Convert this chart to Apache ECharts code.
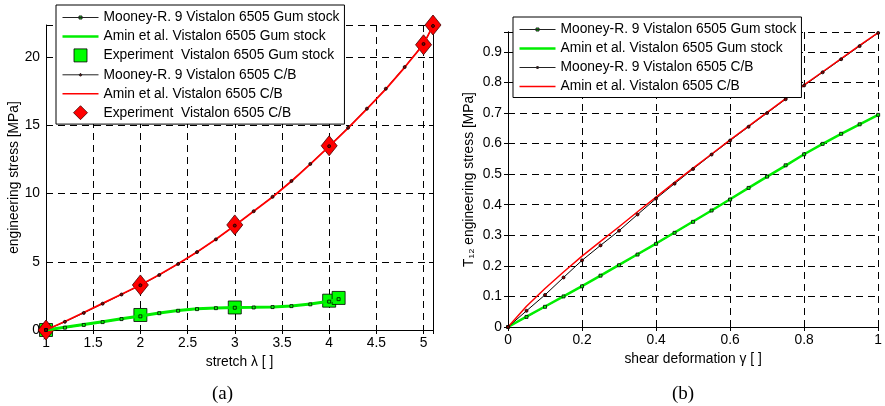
<!DOCTYPE html>
<html lang="en">
<head>
    <meta charset="UTF-8">
    <title>Vistalon 6505</title>
    <script src="https://cdn.jsdelivr.net/npm/echarts@6/dist/echarts.min.js"></script>
    <style>
        html, body { margin: 0; padding: 0; background: #fff; }
    </style>
</head>
<body>
    <div id="main" style="width: 885px; height: 406px"></div>
    <script>
        // (a) uniaxial tension
        var stretchCB = [1.0, 1.2, 1.4, 1.6, 1.8, 2.0, 2.2, 2.4, 2.6, 2.8, 3.0, 3.2, 3.4, 3.6, 3.8, 4.0, 4.2, 4.4, 4.6, 4.8, 5.0, 5.1]
        var cbMooney = [0, 0.6, 1.25, 1.93, 2.6, 3.28, 4.03, 4.84, 5.71, 6.64, 7.65, 8.7, 9.76, 10.92, 12.17, 13.47, 14.82, 16.22, 17.68, 19.27, 20.96, 22.28]
        var cbAmin = [0, 0.62, 1.28, 1.95, 2.62, 3.3, 4.05, 4.85, 5.72, 6.65, 7.66, 8.7, 9.75, 10.9, 12.15, 13.45, 14.8, 16.2, 17.65, 19.25, 20.95, 22.3]

        var stretchGum = [1.0, 1.2, 1.4, 1.6, 1.8, 2.0, 2.2, 2.4, 2.6, 2.8, 3.0, 3.2, 3.4, 3.6, 3.8, 4.0, 4.1]
        var gumMooney = [0, 0.17, 0.37, 0.58, 0.8, 1.0, 1.23, 1.41, 1.53, 1.6, 1.63, 1.65, 1.68, 1.75, 1.88, 2.08, 2.26]
        var gumAmin = [0, 0.2, 0.4, 0.6, 0.82, 1.02, 1.25, 1.43, 1.55, 1.61, 1.64, 1.66, 1.69, 1.76, 1.9, 2.1, 2.28]

        var expGumStretch = [1, 2, 3, 4, 4.1]
        var expGumStress = [0, 1.1, 1.65, 2.15, 2.35]
        var expCBStretch = [1, 2, 3, 4, 5, 5.1]
        var expCBStress = [0, 3.3, 7.7, 13.5, 20.9, 22.35]

        // (b) simple shear
        var gamma = [0, 0.05, 0.1, 0.15, 0.2, 0.25, 0.3, 0.35, 0.4, 0.45, 0.5, 0.55, 0.6, 0.65, 0.7, 0.75, 0.8, 0.85, 0.9, 0.95, 1.0]
        var shearGumMooney = [0, 0.033, 0.066, 0.1, 0.133, 0.168, 0.202, 0.237, 0.272, 0.308, 0.344, 0.381, 0.417, 0.455, 0.492, 0.529, 0.565, 0.599, 0.632, 0.663, 0.694]
        var shearGumAmin = [0, 0.034, 0.067, 0.1, 0.134, 0.168, 0.203, 0.238, 0.273, 0.309, 0.345, 0.381, 0.418, 0.455, 0.492, 0.528, 0.565, 0.599, 0.632, 0.663, 0.694]
        var shearCBMooney = [0, 0.053, 0.105, 0.162, 0.218, 0.267, 0.315, 0.368, 0.42, 0.469, 0.517, 0.564, 0.61, 0.655, 0.7, 0.745, 0.79, 0.833, 0.876, 0.919, 0.962]
        var shearCBAmin = [0, 0.068, 0.126, 0.18, 0.232, 0.28, 0.328, 0.377, 0.425, 0.473, 0.52, 0.566, 0.612, 0.657, 0.702, 0.747, 0.792, 0.835, 0.878, 0.921, 0.963]

        var names = {
            gumMooney: 'Mooney-R. 9 Vistalon 6505 Gum stock',
            gumAmin: 'Amin et al. Vistalon 6505 Gum stock',
            gumExp: 'Experiment  Vistalon 6505 Gum stock',
            cbMooney: 'Mooney-R. 9 Vistalon 6505 C/B',
            cbAmin: 'Amin et al. Vistalon 6505 C/B',
            cbExp: 'Experiment  Vistalon 6505 C/B'
        }

        var GREEN = '#00ff00', LGREEN = '#00ee00', RED = '#ff0000', DRED = '#8b0000'

        function pairs(xs, ys) {
            return xs.map(function (x, i) { return [x, ys[i]] })
        }

        var font = 'Liberation Sans'
        var labelStyle = { color: '#000', fontFamily: font, fontSize: 13.8 }
        var dashed = { show: true, lineStyle: { color: '#000', type: [7, 5], width: 1 } }

        // legend icons drawn in a 36x14 box; the zero-length corner segments pin the box so nothing gets rescaled
        var box = 'M0,0L0,0M36,14L36,14'
        var icons = {
            gumMooney: 'path://' + box + 'M0,7L36,7M16.5,5.5L19.5,5.5L19.5,8.5L16.5,8.5Z',
            gumAmin: 'path://' + box + 'M0,5.8L36,5.8L36,8.2L0,8.2Z',
            gumExp: 'path://' + box + 'M11.5,0.5L24.5,0.5L24.5,13.5L11.5,13.5Z',
            cbMooney: 'path://' + box + 'M0,7L36,7M18,5.5L19.5,7L18,8.5L16.5,7Z',
            cbAmin: 'path://' + box + 'M0,6.3L36,6.3L36,7.7L0,7.7Z',
            cbExp: 'path://' + box + 'M18,0L25,7L18,14L11,7Z'
        }
        var iconStyles = {
            gumMooney: { color: GREEN, borderColor: '#222', borderWidth: 1 },
            gumAmin: { color: LGREEN, borderWidth: 0 },
            gumExp: { color: GREEN, borderColor: '#000', borderWidth: 0.8 },
            cbMooney: { color: DRED, borderColor: '#222', borderWidth: 1 },
            cbAmin: { color: RED, borderWidth: 0 },
            cbExp: { color: RED, borderColor: '#400', borderWidth: 0.8 }
        }
        function legendItem(key, suffix) {
            return { name: names[key] + (suffix || ''), icon: icons[key], itemStyle: iconStyles[key] }
        }

        // main axis + mirror axis for the box with inner ticks
        function xAxes(gi, min, max, interval, name, gap, showMax) {
            return [{
                gridIndex: gi, type: 'value', min: min, max: max, interval: interval,
                name: name, nameLocation: 'middle', nameGap: gap,
                nameTextStyle: labelStyle,
                axisLine: { lineStyle: { color: '#000', width: 1 } },
                axisTick: { inside: true, length: 4, lineStyle: { color: '#000' } },
                axisLabel: Object.assign({ margin: 6, showMaxLabel: showMax }, labelStyle),
                splitLine: dashed
            }, {
                gridIndex: gi, type: 'value', position: 'top', min: min, max: max, interval: interval,
                axisLine: { lineStyle: { color: '#000', width: 1 } },
                axisTick: { inside: true, length: 4, lineStyle: { color: '#000' } },
                axisLabel: { show: false },
                splitLine: { show: false }
            }]
        }

        function yAxes(gi, max, interval, name, gap) {
            return [{
                gridIndex: gi, type: 'value', min: 0, max: max, interval: interval,
                name: name, nameLocation: 'middle', nameGap: gap,
                nameTextStyle: labelStyle,
                axisLine: { show: true, lineStyle: { color: '#000', width: 1 } },
                axisTick: { show: true, inside: true, length: 4, lineStyle: { color: '#000' } },
                axisLabel: Object.assign({ margin: 6, showMaxLabel: false }, labelStyle),
                splitLine: dashed
            }, {
                gridIndex: gi, type: 'value', position: 'right', min: 0, max: max, interval: interval,
                axisLine: { show: true, lineStyle: { color: '#000', width: 1 } },
                axisTick: { show: true, inside: true, length: 4, lineStyle: { color: '#000' } },
                axisLabel: { show: false },
                splitLine: { show: false }
            }]
        }

        function mooney(name, xi, yi, data, fill, sym) {
            return {
                name: name, type: 'line', xAxisIndex: xi, yAxisIndex: yi, data: data,
                symbol: sym, symbolSize: 3, showSymbol: true,
                lineStyle: { color: '#000', width: 1 },
                itemStyle: { color: fill, borderColor: '#000', borderWidth: 0.8 }
            }
        }

        function amin(name, xi, yi, data, color, width) {
            return {
                name: name, type: 'line', xAxisIndex: xi, yAxisIndex: yi, data: data,
                symbol: 'none', lineStyle: { color: color, width: width },
                itemStyle: { color: color }
            }
        }

        var legendBase = {
            orient: 'vertical', itemWidth: 36, itemHeight: 14, itemGap: 4.5,
            backgroundColor: '#fff', borderColor: '#000', borderWidth: 1,
            borderRadius: 0, padding: [5, 5, 4, 6],
            textStyle: { color: '#000', fontFamily: font, fontSize: 13.8 }
        }

        var myEcharts = echarts.init(document.getElementById('main'))

        var option = {
            backgroundColor: '#fff',
            animation: false,
            grid: [
                { left: 46, top: 25, width: 387, height: 305 },
                { left: 508, top: 32, width: 374, height: 295 }
            ],
            xAxis: xAxes(0, 1, 5.1, 0.5, 'stretch λ [ ]', 24, false)
                .concat(xAxes(1, 0, 1, 0.2, 'shear deformation γ [ ]', 22, true)),
            yAxis: yAxes(0, 22.35, 5, 'engineering stress [MPa]', 25)
                .concat(yAxes(1, 0.965, 0.1, 'T₁₂ engineering stress [MPa]', 32)),
            legend: [
                Object.assign({
                    left: 56, top: 5,
                    data: [legendItem('gumMooney'), legendItem('gumAmin'), legendItem('gumExp'),
                        legendItem('cbMooney'), legendItem('cbAmin'), legendItem('cbExp')]
                }, legendBase),
                Object.assign({
                    left: 513, top: 17,
                    data: [legendItem('gumMooney', ' '), legendItem('gumAmin', ' '),
                        legendItem('cbMooney', ' '), legendItem('cbAmin', ' ')],
                    formatter: function (n) { return n.trim() }
                }, legendBase)
            ],
            series: [
                mooney(names.gumMooney, 0, 0, pairs(stretchGum, gumMooney), GREEN, 'rect'),
                amin(names.gumAmin, 0, 0, pairs(stretchGum, gumAmin), LGREEN, 3),
                {
                    name: names.gumExp, type: 'scatter', xAxisIndex: 0, yAxisIndex: 0,
                    data: pairs(expGumStretch, expGumStress),
                    symbol: 'rect', symbolSize: 13, clip: false,
                    itemStyle: { color: GREEN, borderColor: '#000', borderWidth: 0.8, opacity: 1 }
                },
                mooney(names.cbMooney, 0, 0, pairs(stretchCB, cbMooney), DRED, 'circle'),
                amin(names.cbAmin, 0, 0, pairs(stretchCB, cbAmin), RED, 1.8),
                {
                    name: names.cbExp, type: 'scatter', xAxisIndex: 0, yAxisIndex: 0,
                    data: pairs(expCBStretch, expCBStress),
                    symbol: 'diamond', symbolSize: [16, 20], clip: false,
                    itemStyle: { color: RED, borderColor: '#400', borderWidth: 0.8, opacity: 1 }
                },

                mooney(names.gumMooney + ' ', 2, 2, pairs(gamma, shearGumMooney), GREEN, 'rect'),
                amin(names.gumAmin + ' ', 2, 2, pairs(gamma, shearGumAmin), LGREEN, 2.5),
                mooney(names.cbMooney + ' ', 2, 2, pairs(gamma, shearCBMooney), DRED, 'circle'),
                amin(names.cbAmin + ' ', 2, 2, pairs(gamma, shearCBAmin), RED, 1.5)
            ],
            graphic: [
                { type: 'text', left: 212, top: 385, style: { text: '(a)', font: '19px "Liberation Serif"', fill: '#000' } },
                { type: 'text', left: 672, top: 385, style: { text: '(b)', font: '19px "Liberation Serif"', fill: '#000' } }
            ]
        }

        myEcharts.setOption(option)
    </script>
</body>
</html>
